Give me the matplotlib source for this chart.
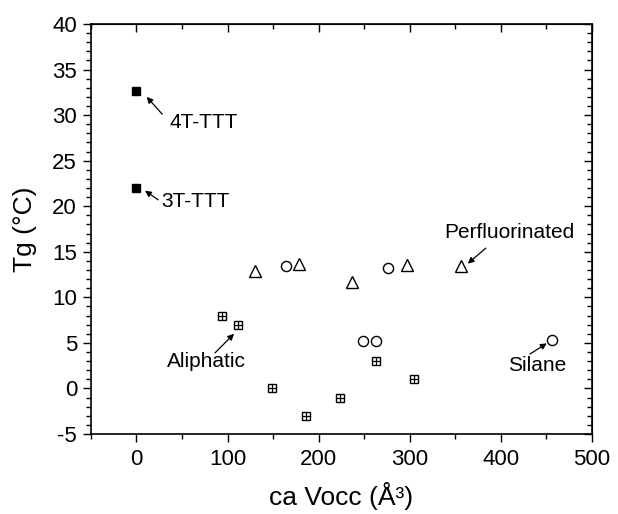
import matplotlib
matplotlib.use('Agg')
import matplotlib.pyplot as plt
from matplotlib.ticker import MultipleLocator

plt.rcParams['font.family'] = ['Liberation Sans', 'DejaVu Sans']
plt.rcParams['axes.unicode_minus'] = False

# TTT cores (filled squares)
ttt_x = [0, 0]
ttt_y = [32.6, 22.0]

# aliphatic (square with cross)
ali_x = [94, 112, 149, 186, 223, 263, 305]
ali_y = [8, 7, 0, -3, -1, 3, 1]

# circles (incl. silane)
circ_x = [164, 276, 249, 263, 456]
circ_y = [13.4, 13.2, 5.2, 5.2, 5.3]

# perfluorinated (triangles)
tri_x = [130, 178, 237, 297, 356]
tri_y = [12.9, 13.7, 11.7, 13.6, 13.4]

fig = plt.figure(figsize=(6.18, 5.14), dpi=100)
ax = fig.add_axes([0.1472, 0.1556, 0.8103, 0.7977])

ax.plot(ttt_x, ttt_y, 's', color='black', markersize=5.8, linestyle='none')
ax.plot(ali_x, ali_y, 's', mfc='white', mec='black', mew=1.0, markersize=6, linestyle='none')
ax.plot(ali_x, ali_y, '+', color='black', mew=0.9, markersize=5.5, linestyle='none')
ax.plot(circ_x, circ_y, 'o', mfc='none', mec='black', mew=1.0, markersize=7.3, linestyle='none')
ax.plot(tri_x, tri_y, '^', mfc='none', mec='black', mew=1.0, markersize=8, linestyle='none')

arrow = dict(arrowstyle='-|>', color='black', lw=0.9, mutation_scale=9, shrinkA=0, shrinkB=0)
# (label, arrow head, arrow tail, text position)
notes = [
    ('4T-TTT', (11.2, 32.0), (28.3, 30.1), (36.0, 29.2)),
    ('3T-TTT', (9.3, 21.7), (23.9, 20.7), (27.7, 20.5)),
    ('Aliphatic', (107.1, 6.0), (86.2, 3.9), (33.0, 3.0)),
    ('Perfluorinated', (363.8, 13.7), (383.6, 15.4), (338.1, 17.1)),
    ('Silane', (450.6, 4.95), (432.2, 3.78), (408.4, 2.5)),
]
for label, head, tail, txt in notes:
    ax.annotate('', xy=head, xytext=tail, arrowprops=arrow)
    ax.text(txt[0], txt[1], label, fontsize=15, ha='left', va='center')

ax.set_xlim(-50, 500)
ax.set_ylim(-5, 40)
ax.xaxis.set_major_locator(MultipleLocator(100))
ax.xaxis.set_minor_locator(MultipleLocator(50))
ax.yaxis.set_major_locator(MultipleLocator(5))
ax.yaxis.set_minor_locator(MultipleLocator(1))

ax.tick_params(which='both', direction='out', labelsize=16, width=1.0)
ax.tick_params(which='major', length=6)
ax.tick_params(which='minor', length=3.5)
ax.tick_params(axis='x', which='major', pad=5)
ax.tick_params(axis='y', which='major', pad=4)

# inward ticks on top and right, no labels
top = ax.secondary_xaxis('top')
top.xaxis.set_major_locator(MultipleLocator(100))
top.xaxis.set_minor_locator(MultipleLocator(50))
top.tick_params(which='both', direction='in', labeltop=False, width=1.0)
top.tick_params(which='major', length=6)
top.tick_params(which='minor', length=3.5)
right = ax.secondary_yaxis('right')
right.yaxis.set_major_locator(MultipleLocator(5))
right.yaxis.set_minor_locator(MultipleLocator(1))
right.tick_params(which='both', direction='in', labelright=False, width=1.0)
right.tick_params(which='major', length=6)
right.tick_params(which='minor', length=3.5)

for s in ax.spines.values():
    s.set_linewidth(1.2)

ax.set_xlabel('ca Vocc (Å³)', fontsize=19)
ax.set_ylabel('Tg (°C)', fontsize=19)
ax.xaxis.set_label_coords(0.5, -0.117)
ax.yaxis.set_label_coords(-0.108, 0.5)

fig.savefig('out.png', dpi=100)
